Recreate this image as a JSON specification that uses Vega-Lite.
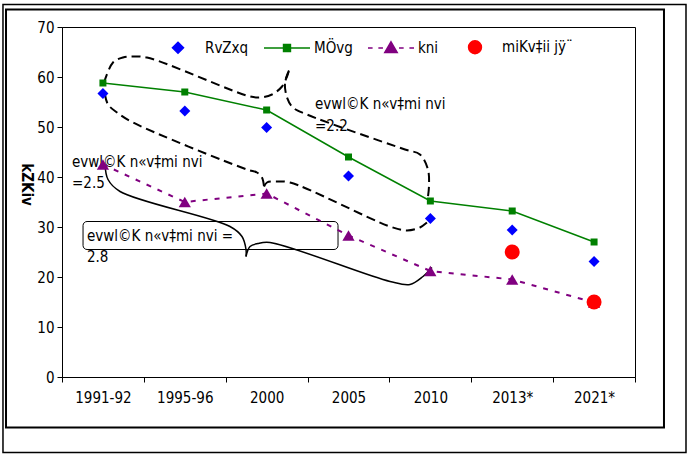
{
  "$schema": "https://vega.github.io/schema/vega-lite/v6.json",
  "width": 573,
  "height": 350,
  "autosize": {"type": "none"},
  "padding": {"left": 62, "top": 27, "right": 52, "bottom": 77},
  "background": "white",
  "config": {
    "view": {"stroke": "black", "strokeWidth": 1},
    "font": "Liberation Sans Narrow, DejaVu Sans Condensed, sans-serif"
  },
  "datasets": {
    "pov": [
      {"period": "1991-92", "series": "RvZxq", "value": 56.7},
      {"period": "1995-96", "series": "RvZxq", "value": 53.2},
      {"period": "2000", "series": "RvZxq", "value": 49.9},
      {"period": "2005", "series": "RvZxq", "value": 40.2},
      {"period": "2010", "series": "RvZxq", "value": 31.7},
      {"period": "2013*", "series": "RvZxq", "value": 29.4},
      {"period": "2021*", "series": "RvZxq", "value": 23.1},
      {"period": "1991-92", "series": "MÖvg", "value": 58.8},
      {"period": "1995-96", "series": "MÖvg", "value": 57.0},
      {"period": "2000", "series": "MÖvg", "value": 53.4},
      {"period": "2005", "series": "MÖvg", "value": 44.0},
      {"period": "2010", "series": "MÖvg", "value": 35.2},
      {"period": "2013*", "series": "MÖvg", "value": 33.2},
      {"period": "2021*", "series": "MÖvg", "value": 27.0},
      {"period": "1991-92", "series": "kni", "value": 42.5},
      {"period": "1995-96", "series": "kni", "value": 35.0},
      {"period": "2000", "series": "kni", "value": 36.7},
      {"period": "2005", "series": "kni", "value": 28.3},
      {"period": "2010", "series": "kni", "value": 21.2},
      {"period": "2013*", "series": "kni", "value": 19.5},
      {"period": "2021*", "series": "kni", "value": 14.9},
      {"period": "2013*", "series": "miKv‡ii jÿ¨", "value": 25.0},
      {"period": "2021*", "series": "miKv‡ii jÿ¨", "value": 15.0}
    ],
    "braces": [
      {"brace": "upA", "style": "dashed", "ord": 1, "bx": 0.013, "by": 58.9},
      {"brace": "upA", "style": "dashed", "ord": 2, "bx": 0.123, "by": 62.9},
      {"brace": "upA", "style": "dashed", "ord": 3, "bx": 0.245, "by": 63.9},
      {"brace": "upA", "style": "dashed", "ord": 4, "bx": 0.367, "by": 64.1},
      {"brace": "upA", "style": "dashed", "ord": 5, "bx": 0.538, "by": 63.9},
      {"brace": "upA", "style": "dashed", "ord": 6, "bx": 1.797, "by": 56.1},
      {"brace": "upA", "style": "dashed", "ord": 7, "bx": 1.919, "by": 55.9},
      {"brace": "upA", "style": "dashed", "ord": 8, "bx": 2.065, "by": 56.5},
      {"brace": "upA", "style": "dashed", "ord": 9, "bx": 2.188, "by": 58.1},
      {"brace": "upA", "style": "dashed", "ord": 10, "bx": 2.249, "by": 60.1},
      {"brace": "upA", "style": "dashed", "ord": 11, "bx": 2.273, "by": 61.3},
      {"brace": "upB", "style": "dashed", "ord": 1, "bx": 2.273, "by": 61.3},
      {"brace": "upB", "style": "dashed", "ord": 2, "bx": 2.224, "by": 58.9},
      {"brace": "upB", "style": "dashed", "ord": 3, "bx": 2.249, "by": 55.9},
      {"brace": "upB", "style": "dashed", "ord": 4, "bx": 2.322, "by": 53.9},
      {"brace": "upB", "style": "dashed", "ord": 5, "bx": 2.493, "by": 52.5},
      {"brace": "upB", "style": "dashed", "ord": 6, "bx": 3.690, "by": 45.5},
      {"brace": "upB", "style": "dashed", "ord": 7, "bx": 3.873, "by": 44.5},
      {"brace": "upB", "style": "dashed", "ord": 8, "bx": 3.971, "by": 41.5},
      {"brace": "upB", "style": "dashed", "ord": 9, "bx": 3.983, "by": 38.1},
      {"brace": "upB", "style": "dashed", "ord": 10, "bx": 3.971, "by": 36.1},
      {"brace": "loA", "style": "dashed", "ord": 1, "bx": 0.025, "by": 56.5},
      {"brace": "loA", "style": "dashed", "ord": 2, "bx": 0.062, "by": 54.5},
      {"brace": "loA", "style": "dashed", "ord": 3, "bx": 0.172, "by": 52.9},
      {"brace": "loA", "style": "dashed", "ord": 4, "bx": 0.367, "by": 50.9},
      {"brace": "loA", "style": "dashed", "ord": 5, "bx": 1.760, "by": 41.5},
      {"brace": "loA", "style": "dashed", "ord": 6, "bx": 1.882, "by": 40.9},
      {"brace": "loA", "style": "dashed", "ord": 7, "bx": 1.943, "by": 39.9},
      {"brace": "loA", "style": "dashed", "ord": 8, "bx": 1.968, "by": 38.1},
      {"brace": "loB", "style": "dashed", "ord": 1, "bx": 1.968, "by": 38.1},
      {"brace": "loB", "style": "dashed", "ord": 2, "bx": 2.004, "by": 38.9},
      {"brace": "loB", "style": "dashed", "ord": 3, "bx": 2.126, "by": 39.1},
      {"brace": "loB", "style": "dashed", "ord": 4, "bx": 2.285, "by": 38.9},
      {"brace": "loB", "style": "dashed", "ord": 5, "bx": 3.507, "by": 30.1},
      {"brace": "loB", "style": "dashed", "ord": 6, "bx": 3.715, "by": 29.3},
      {"brace": "loB", "style": "dashed", "ord": 7, "bx": 3.873, "by": 29.9},
      {"brace": "loB", "style": "dashed", "ord": 8, "bx": 3.959, "by": 30.9},
      {"brace": "loB", "style": "dashed", "ord": 9, "bx": 3.996, "by": 31.5},
      {"brace": "soA", "style": "solid", "ord": 1, "bx": 0.025, "by": 42.5},
      {"brace": "soA", "style": "solid", "ord": 2, "bx": 0.062, "by": 39.5},
      {"brace": "soA", "style": "solid", "ord": 3, "bx": 0.209, "by": 37.1},
      {"brace": "soA", "style": "solid", "ord": 4, "bx": 1.552, "by": 30.1},
      {"brace": "soA", "style": "solid", "ord": 5, "bx": 1.699, "by": 28.1},
      {"brace": "soA", "style": "solid", "ord": 6, "bx": 1.748, "by": 25.5},
      {"brace": "soA", "style": "solid", "ord": 7, "bx": 1.748, "by": 24.1},
      {"brace": "soB", "style": "solid", "ord": 1, "bx": 1.748, "by": 24.1},
      {"brace": "soB", "style": "solid", "ord": 2, "bx": 1.797, "by": 26.1},
      {"brace": "soB", "style": "solid", "ord": 3, "bx": 1.894, "by": 26.7},
      {"brace": "soB", "style": "solid", "ord": 4, "bx": 2.041, "by": 26.9},
      {"brace": "soB", "style": "solid", "ord": 5, "bx": 3.507, "by": 19.1},
      {"brace": "soB", "style": "solid", "ord": 6, "bx": 3.751, "by": 18.5},
      {"brace": "soB", "style": "solid", "ord": 7, "bx": 3.910, "by": 20.1},
      {"brace": "soB", "style": "solid", "ord": 8, "bx": 4.020, "by": 21.9}
    ],
    "notes": [
      {"label": "evwl©K n«v‡mi nvi", "tx": 2.591, "ty": 54.7},
      {"label": "=2.2", "tx": 2.591, "ty": 50.3},
      {"label": "evwl©K n«v‡mi nvi", "tx": -0.378, "ty": 43.1},
      {"label": "=2.5", "tx": -0.378, "ty": 38.9},
      {"label": "evwl©K n«v‡mi nvi =", "tx": -0.195, "ty": 28.3},
      {"label": "2.8", "tx": -0.195, "ty": 24.1}
    ]
  },
  "layer": [
    {
      "layer": [
        {
          "data": {"values": [{}]},
          "mark": {"type": "rect", "fillOpacity": 0, "stroke": "black", "strokeWidth": 1.5, "clip": false},
          "encoding": {
            "x": {"datum": -1.221, "type": "quantitative", "scale": {"domain": [-0.5, 6.5], "nice": false, "zero": false}, "axis": null},
            "x2": {"datum": 7.123},
            "y": {"datum": 74.5, "type": "quantitative", "scale": {"domain": [0, 70], "nice": false}, "axis": null},
            "y2": {"datum": -15.1}
          }
        },
        {
          "data": {"values": [{}]},
          "mark": {"type": "rect", "fillOpacity": 0, "stroke": "black", "strokeWidth": 2, "clip": false},
          "encoding": {
            "x": {"datum": -1.184, "type": "quantitative", "scale": {"domain": [-0.5, 6.5], "nice": false, "zero": false}, "axis": null},
            "x2": {"datum": 6.854},
            "y": {"datum": 73.5, "type": "quantitative", "scale": {"domain": [0, 70], "nice": false}, "axis": null},
            "y2": {"datum": -10.1}
          }
        },
        {
          "data": {"values": [{}]},
          "mark": {"type": "rect", "fillOpacity": 0, "stroke": "black", "strokeWidth": 1, "cornerRadius": 4},
          "encoding": {
            "x": {"datum": -0.243, "type": "quantitative", "scale": {"domain": [-0.5, 6.5], "nice": false, "zero": false}, "axis": null},
            "x2": {"datum": 2.872},
            "y": {"datum": 31.1, "type": "quantitative", "scale": {"domain": [0, 70], "nice": false}, "axis": null},
            "y2": {"datum": 25.5}
          }
        },
        {
          "data": {"name": "braces"},
          "transform": [{"filter": "datum.style === 'dashed'"}],
          "mark": {"type": "line", "color": "black", "strokeWidth": 2, "strokeDash": [9, 5], "interpolate": "catmull-rom"},
          "encoding": {
            "x": {"field": "bx", "type": "quantitative", "scale": {"domain": [-0.5, 6.5], "nice": false, "zero": false}, "axis": null},
            "y": {"field": "by", "type": "quantitative", "scale": {"domain": [0, 70], "nice": false}, "axis": null},
            "detail": {"field": "brace"},
            "order": {"field": "ord", "type": "quantitative"}
          }
        },
        {
          "data": {"name": "braces"},
          "transform": [{"filter": "datum.style === 'solid'"}],
          "mark": {"type": "line", "color": "black", "strokeWidth": 1.5, "interpolate": "catmull-rom"},
          "encoding": {
            "x": {"field": "bx", "type": "quantitative", "scale": {"domain": [-0.5, 6.5], "nice": false, "zero": false}, "axis": null},
            "y": {"field": "by", "type": "quantitative", "scale": {"domain": [0, 70], "nice": false}, "axis": null},
            "detail": {"field": "brace"},
            "order": {"field": "ord", "type": "quantitative"}
          }
        },
        {
          "data": {"name": "notes"},
          "mark": {"type": "text", "align": "left", "baseline": "middle", "fontSize": 15, "color": "black", "font": "Liberation Sans Narrow, DejaVu Sans Condensed, sans-serif"},
          "encoding": {
            "x": {"field": "tx", "type": "quantitative", "scale": {"domain": [-0.5, 6.5], "nice": false, "zero": false}, "axis": null},
            "y": {"field": "ty", "type": "quantitative", "scale": {"domain": [0, 70], "nice": false}, "axis": null},
            "text": {"field": "label"}
          }
        }
      ]
    },
    {
      "data": {"name": "pov"},
      "encoding": {
        "x": {
          "field": "period", "type": "ordinal",
          "scale": {"type": "band", "paddingInner": 0, "paddingOuter": 0, "domain": ["1991-92", "1995-96", "2000", "2005", "2010", "2013*", "2021*"]},
          "bandPosition": 0.5,
          "axis": {"title": null, "labelAngle": 0, "tickBand": "extent", "tickSize": 5, "tickColor": "black", "domainColor": "black", "labelColor": "black", "labelFontSize": 15, "labelPadding": 8, "grid": false}
        },
        "y": {
          "field": "value", "type": "quantitative",
          "scale": {"domain": [0, 70], "nice": false},
          "axis": {"values": [0, 10, 20, 30, 40, 50, 60, 70], "tickSize": 5, "tickColor": "black", "domainColor": "black", "labelColor": "black", "labelFontSize": 15, "labelPadding": 3, "grid": false, "title": "kZKiv", "titleAngle": 90, "titleFontWeight": "bold", "titleFontSize": 15, "titleColor": "black", "titleX": -36, "titleY": 157, "titleAlign": "center", "titleBaseline": "middle"}
        }
      },
      "layer": [
        {
          "transform": [{"filter": "datum.series === 'MÖvg'"}],
          "mark": {"type": "line", "color": "#008000", "strokeWidth": 1.5}
        },
        {
          "transform": [{"filter": "datum.series === 'kni'"}],
          "mark": {"type": "line", "color": "#800080", "strokeWidth": 2, "strokeDash": [5, 7]}
        },
        {
          "transform": [{"filter": "datum.series === 'RvZxq'"}],
          "mark": {"type": "point", "filled": true, "opacity": 1, "shape": "diamond", "size": 121, "color": "#0000FF"}
        },
        {
          "transform": [{"filter": "datum.series === 'MÖvg'"}],
          "mark": {"type": "point", "filled": true, "opacity": 1, "shape": "square", "size": 49, "color": "#008000"}
        },
        {
          "transform": [{"filter": "datum.series === 'kni'"}],
          "mark": {"type": "point", "filled": true, "opacity": 1, "shape": "triangle-up", "size": 150, "color": "#800080"}
        },
        {
          "transform": [{"filter": "datum.series === 'miKv‡ii jÿ¨'"}],
          "mark": {"type": "point", "filled": true, "opacity": 1, "shape": "circle", "size": 225, "color": "#FF0000"}
        },
        {
          "transform": [{"filter": "false"}],
          "mark": {"type": "point", "filled": true},
          "encoding": {
            "color": {
              "field": "series", "type": "nominal",
              "scale": {"domain": ["RvZxq", "MÖvg", "kni", "miKv‡ii jÿ¨"], "range": ["#0000FF", "#008000", "#800080", "#FF0000"]},
              "legend": {
                "orient": "none", "legendX": 92, "legendY": -4, "direction": "horizontal", "title": null,
                "symbolSize": 2116, "symbolStrokeWidth": 1.5, "symbolOpacity": 1,
                "symbolType": {"expr": "datum.index === 0 ? 'M0,-0.24L0.24,0L0,0.24L-0.24,0Z' : datum.index === 1 ? 'M-1,0L1,0M-0.15,-0.15L0.15,-0.15L0.15,0.15L-0.15,0.15Z' : datum.index === 2 ? 'M-1,0L-0.8,0M-0.55,0L-0.35,0M0.35,0L0.55,0M0.8,0L1,0M0,-0.27L0.27,0.2L-0.27,0.2Z' : 'M0.28,0A0.28,0.28,0,1,1,-0.28,0A0.28,0.28,0,1,1,0.28,0Z'"},
                "labelFontSize": 15, "labelColor": "black", "labelOffset": 3, "columnPadding": 12, "padding": 0,
                "encode": {
                  "symbols": {
                    "update": {
                      "shape": {"signal": "datum.index === 0 ? 'M0,-0.24L0.24,0L0,0.24L-0.24,0Z' : datum.index === 1 ? 'M-1,0L1,0M-0.15,-0.15L0.15,-0.15L0.15,0.15L-0.15,0.15Z' : datum.index === 2 ? 'M-1,0L-0.8,0M-0.55,0L-0.35,0M0.35,0L0.55,0M0.8,0L1,0M0,-0.27L0.27,0.2L-0.27,0.2Z' : 'M0.28,0A0.28,0.28,0,1,1,-0.28,0A0.28,0.28,0,1,1,0.28,0Z'"},
                      "stroke": {"scale": "color", "field": "value"},
                      "fill": {"scale": "color", "field": "value"},
                      "strokeWidth": {"value": 1.5},
                      "opacity": {"value": 1}
                    }
                  }
                }
              }
            }
          }
        }
      ]
    }
  ],
  "resolve": {"scale": {"x": "independent", "y": "independent"}}
}
